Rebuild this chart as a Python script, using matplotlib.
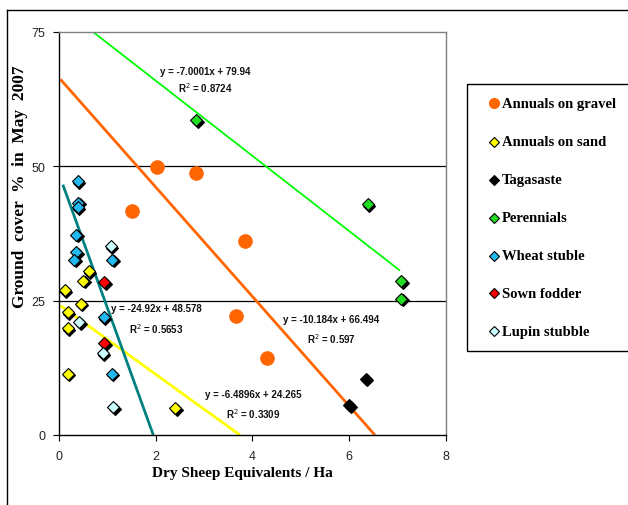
import matplotlib
matplotlib.use("Agg")
import matplotlib.pyplot as plt
import matplotlib.transforms as mtransforms
from matplotlib.lines import Line2D
from matplotlib.patches import Rectangle
import numpy as np

# ---------------- data ----------------
gravel_x = [1.50, 2.03, 2.83, 3.84, 3.66, 4.30]
gravel_y = [41.7, 49.9, 48.7, 36.1, 22.1, 14.3]

sand_x = [0.12, 0.18, 0.18, 0.18, 0.45, 0.50, 0.61, 2.40]
sand_y = [27.0, 22.8, 19.9, 11.4, 24.4, 28.7, 30.5, 5.0]

taga_x = [6.00, 6.34]
taga_y = [5.6, 10.5]

peren_x = [2.83, 6.38, 7.07, 7.07]
peren_y = [58.6, 42.9, 28.6, 25.4]

wheat_x = [0.39, 0.40, 0.39, 0.36, 0.36, 0.32, 1.10, 0.92, 1.09]
wheat_y = [47.2, 43.2, 42.4, 37.3, 34.0, 32.6, 32.6, 21.9, 11.4]

fodder_x = [0.94, 0.94]
fodder_y = [28.4, 17.1]

lupin_x = [1.07, 0.42, 0.90, 1.12]
lupin_y = [35.1, 21.0, 15.2, 5.2]

# trendlines: (slope, intercept, x_start, x_end)
trend_green = (-7.0001, 79.94, 0.71, 7.05)
trend_orange = (-10.184, 66.494, 0.03, 6.53)
trend_yellow = (-6.4896, 24.265, 0.03, 3.74)
trend_teal = (-24.92, 48.578, 0.08, 1.95)

eq_green = ("y = -7.0001x + 79.94", "R$^2$ = 0.8724")
eq_orange = ("y = -10.184x + 66.494", "R$^2$ = 0.597")
eq_yellow = ("y = -6.4896x + 24.265", "R$^2$ = 0.3309")
eq_teal = ("y = -24.92x + 48.578", "R$^2$ = 0.5653")

legend_labels = ["Annuals on gravel", "Annuals on sand", "Tagasaste", "Perennials",
                 "Wheat stuble", "Sown fodder", "Lupin stubble"]

x_ticks = [0, 2, 4, 6, 8]
y_ticks = [0, 25, 50, 75]

# ---------------- figure ----------------
W, H = 628, 506
fig = plt.figure(figsize=(W / 100, H / 100), dpi=100)

def fx(px):
    return px / W

def fy(py):
    return 1 - py / H

ax = fig.add_axes([fx(59), fy(436), fx(446) - fx(59), fy(33) - fy(436)])
ax.set_xlim(0, 8)
ax.set_ylim(0, 75)

# frame
for s in ["top", "right"]:
    ax.spines[s].set_color("#808080")
    ax.spines[s].set_linewidth(1.0)
for s in ["left", "bottom"]:
    ax.spines[s].set_color("#000000")
    ax.spines[s].set_linewidth(1.0)

for yv in [25, 50]:
    ax.axhline(yv, color="#000000", lw=0.9, zorder=1)

ax.set_xticks(x_ticks)
ax.set_yticks(y_ticks)
ax.tick_params(axis="both", direction="out", length=4, width=0.8, color="#000000",
               labelsize=9, labelcolor="#222222", pad=6)
ax.tick_params(axis="x", pad=7)
for lab in ax.get_xticklabels() + ax.get_yticklabels():
    lab.set_fontfamily(["Liberation Sans", "DejaVu Sans"])

# trendlines
def trend(t, color, lw):
    m, b, x0, x1 = t
    xs = np.array([x0, x1])
    ax.plot(xs, m * xs + b, color=color, lw=lw, zorder=2, solid_capstyle="butt")

trend(trend_green, "#00FF00", 1.3)
trend(trend_orange, "#FF6600", 2.0)
trend(trend_yellow, "#FFFF00", 2.0)
trend(trend_teal, "#008080", 2.0)

# shadowed diamonds
shadow = mtransforms.offset_copy(ax.transData, fig=fig, x=1.6, y=-1.6, units="dots")
DMS = 6.4

def diamonds(xs, ys, color):
    ax.plot(xs, ys, "D", ms=DMS, mfc="black", mec="black", mew=0.8,
            transform=shadow, zorder=3, clip_on=False)
    ax.plot(xs, ys, "D", ms=DMS, mfc=color, mec="black", mew=0.8, zorder=4, clip_on=False)

ax.plot(gravel_x, gravel_y, "o", ms=9.5, mfc="#FF6600", mec="#FF6600", zorder=4)
diamonds(sand_x, sand_y, "#FFFF00")
diamonds(taga_x, taga_y, "#000000")
diamonds(peren_x, peren_y, "#22DD22")
diamonds(wheat_x, wheat_y, "#22B8F0")
diamonds(fodder_x, fodder_y, "#FF0000")
diamonds(lupin_x, lupin_y, "#CCFFFF")

# equations
eqfont = dict(family=["Liberation Sans Narrow", "Liberation Sans", "DejaVu Sans"],
              fontsize=7, fontweight="bold", color="#111111", ha="center", va="center")

def eq(lines, p1, p2):
    fig.text(fx(p1[0]), fy(p1[1]), lines[0], **eqfont)
    fig.text(fx(p2[0]), fy(p2[1]), lines[1], **eqfont)

eq(eq_green, (205, 72.5), (205, 88))
eq(eq_teal, (156, 309.5), (156, 329))
eq(eq_orange, (331, 320), (331, 339.5))
eq(eq_yellow, (253, 395), (253, 414.5))

# axis labels
serif = ["Liberation Serif", "DejaVu Serif"]
fig.text(fx(242), fy(473), "Dry Sheep Equivalents / Ha", family=serif, fontsize=11,
         fontweight="bold", ha="center", va="center")
fig.text(fx(20), fy(187), "Ground  cover  %  in  May  2007", family=serif, fontsize=12.5,
         fontweight="bold", ha="center", va="center", rotation=90)

# outer border
fig.add_artist(Line2D([fx(7), 1.0], [fy(11), fy(11)], color="black", lw=1.0))
fig.add_artist(Line2D([fx(7), fx(7)], [fy(11), 0.0], color="black", lw=1.0))

# legend box
lax = fig.add_axes([fx(467), fy(640), fx(700) - fx(467), fy(85) - fy(640)])
lax.set_xlim(467, 700)
lax.set_ylim(640, 85)
lax.axis("off")
lax.add_patch(Rectangle((467, 85), 400, 267, fill=False, ec="black", lw=1.0, clip_on=False))
rows = [104.3, 142.7, 180.7, 219, 256.7, 294.3, 332.3]
leg_colors = ["#FF6600", "#FFFF00", "#000000", "#22DD22", "#22B8F0", "#FF0000", "#CCFFFF"]
for i, (lab, c, yy) in enumerate(zip(legend_labels, leg_colors, rows)):
    if i == 0:
        lax.plot([494], [yy], "o", ms=7, mfc=c, mec=c, clip_on=False)
    else:
        lax.plot([494], [yy], "D", ms=4.8, mfc=c, mec="black", mew=0.8, clip_on=False)
    lax.text(502, yy, lab, family=serif, fontsize=10.5, fontweight="bold",
             ha="left", va="center")

fig.savefig("out.png", dpi=100)
